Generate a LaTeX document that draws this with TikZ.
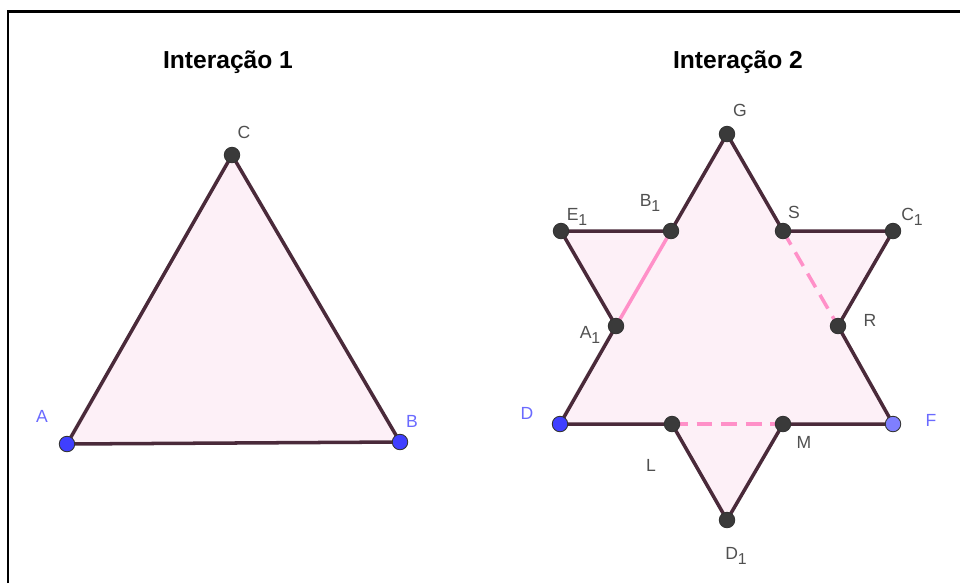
\documentclass[tikz,border=0pt]{standalone}
\usepackage{fontspec}
\setmainfont{Liberation Sans}
\usetikzlibrary{positioning}
\usepackage{xcolor}

\definecolor{facepink}{HTML}{FDF0F7}
\definecolor{edgedark}{HTML}{4A2A3A}
\definecolor{cutpink}{HTML}{FF90C8}
\definecolor{dotdark}{HTML}{3A3A3A}
\definecolor{dotblue}{HTML}{3F3FFF}
\definecolor{dotlight}{HTML}{7F7FFF}
\definecolor{lblgray}{HTML}{505050}
\definecolor{lblblue}{HTML}{6A6AFF}

\newcommand{\lowidx}[1]{\raisebox{-0.55ex}{\small #1}}

\begin{document}
\begin{tikzpicture}[
    x=0.02cm, y=-0.02cm,
    face/.style={fill=facepink},
    edge/.style={draw=edgedark, line width=2pt, line cap=round},
    cut/.style={draw=cutpink, line width=2pt},
    cutdashed/.style={cut, dash pattern=on 9pt off 5pt},
    vertex/.style={circle, draw=black!80, line width=0.5pt,
      fill=dotdark, minimum size=0.31cm, inner sep=0pt},
    bluevertex/.style={vertex, fill=dotblue},
    lightvertex/.style={vertex, fill=dotlight},
    lbl/.style={text=lblgray, font=\fontsize{10}{12}\selectfont, inner sep=0pt},
    bluelbl/.style={lbl, text=lblblue},
    title/.style={font=\fontsize{14}{16}\selectfont\bfseries, inner sep=0pt}
  ]
    \useasboundingbox (0,0) rectangle (960,583);

    % frame
    \draw[line width=1.7pt] (8,583) -- (8,11) -- (960,11);

    % titles
    \node[title] (t1) at (228,62) {Interação 1};
    \node[title] (t2) at (738,62) {Interação 2};

    % interacao 1
    \coordinate (A) at (67,444);
    \coordinate (B) at (400,442);
    \coordinate (C) at (232,155);

    \fill[face] (A) -- (B) -- (C) -- cycle;
    \draw[edge] (A) -- (B) -- (C) -- cycle;

    % interacao 2
    \coordinate (D) at (560,424);
    \coordinate (F) at (893,424);
    \coordinate (G) at (727,134);
    \coordinate (E1) at (561,231);
    \coordinate (C1) at (893,231);
    \coordinate (D1) at (727,520);
    \coordinate (B1) at (671,231);
    \coordinate (S) at (783,231);
    \coordinate (A1) at (616,326);
    \coordinate (R) at (838,326);
    \coordinate (L) at (672,424);
    \coordinate (M) at (783,424);

    \fill[face] (D) -- (L) -- (D1) -- (M) -- (F) -- (R) -- (C1) -- (S)
      -- (G) -- (B1) -- (E1) -- (A1) -- cycle;

    \draw[cut] (A1) -- (B1);
    \draw[cutdashed] (S) -- (R);
    \draw[cutdashed] (L) -- (M);

    \draw[edge] (D) -- (L) -- (D1) -- (M) -- (F) -- (R) -- (C1) -- (S)
      -- (G) -- (B1) -- (E1) -- (A1) -- cycle;

    % points
    \node[bluevertex] (pA) at (A) {};
    \node[bluevertex] (pB) at (B) {};
    \node[vertex] (pC) at (C) {};
    \node[bluevertex] (pD) at (D) {};
    \node[lightvertex] (pF) at (F) {};
    \node[vertex] (pG) at (G) {};
    \node[vertex] (pE1) at (E1) {};
    \node[vertex] (pC1) at (C1) {};
    \node[vertex] (pD1) at (D1) {};
    \node[vertex] (pB1) at (B1) {};
    \node[vertex] (pS) at (S) {};
    \node[vertex] (pA1) at (A1) {};
    \node[vertex] (pR) at (R) {};
    \node[vertex] (pL) at (L) {};
    \node[vertex] (pM) at (M) {};

    % labels
    \node[lbl] (lC) at (244,132) {C};
    \node[bluelbl] (lA) at (42,416) {A};
    \node[bluelbl] (lB) at (412,421) {B};
    \node[lbl] (lG) at (740,110) {G};
    \node[lbl] (lE1) at (577,217) {E\lowidx{1}};
    \node[lbl] (lB1) at (650,203) {B\lowidx{1}};
    \node[lbl] (lS) at (794,212) {S};
    \node[lbl] (lC1) at (912,217) {C\lowidx{1}};
    \node[lbl] (lA1) at (590,335) {A\lowidx{1}};
    \node[lbl] (lR) at (870,320) {R};
    \node[bluelbl] (lD) at (527,413) {D};
    \node[bluelbl] (lF) at (931,420) {F};
    \node[lbl] (lL) at (651,465) {L};
    \node[lbl] (lM) at (804,442) {M};
    \node[lbl] (lD1) at (736,556) {D\lowidx{1}};
  \end{tikzpicture}
\end{document}
